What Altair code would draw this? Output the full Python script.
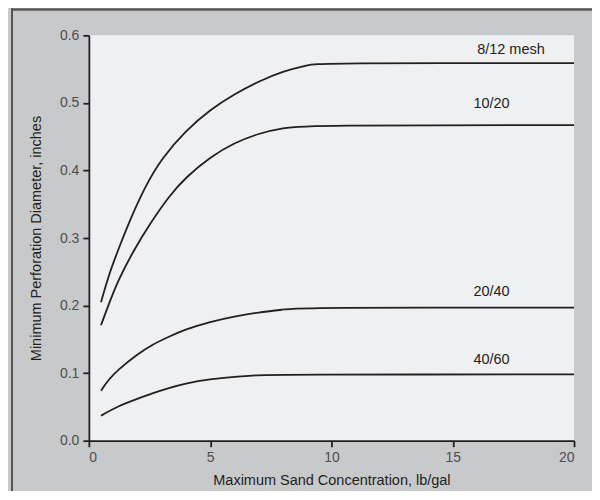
import altair as alt
import pandas as pd

# 8/12 mesh
x_a = [0.5, 0.8, 1.2, 1.7, 2.3, 3.0, 4.0, 5.0, 6.0, 7.0, 8.0, 9.0, 9.5, 20]
y_a = [0.205, 0.243, 0.282, 0.327, 0.375, 0.418, 0.459, 0.49, 0.513, 0.532, 0.547, 0.556, 0.559, 0.559]
# 10/20
x_b = [0.5, 0.8, 1.2, 1.85, 2.5, 3.3, 4.0, 5.0, 6.0, 7.0, 8.0, 9.0, 20]
y_b = [0.171, 0.2, 0.237, 0.282, 0.32, 0.362, 0.39, 0.42, 0.441, 0.455, 0.463, 0.467, 0.467]
# 20/40
x_c = [0.5, 0.8, 1.2, 2.0, 2.6, 3.3, 4.0, 5.0, 6.0, 7.0, 8.0, 8.7, 20]
y_c = [0.074, 0.09, 0.105, 0.128, 0.142, 0.154, 0.165, 0.176, 0.184, 0.19, 0.194, 0.197, 0.197]
# 40/60
x_d = [0.5, 1.2, 2.0, 2.6, 3.3, 4.0, 5.0, 6.0, 7.0, 7.6, 20]
y_d = [0.037, 0.051, 0.062, 0.07, 0.078, 0.085, 0.091, 0.0945, 0.097, 0.098, 0.098]

series_names = ["8/12 mesh", "10/20", "20/40", "40/60"]
label_x = [17.4, 16.6, 16.6, 16.6]
label_y = [0.578, 0.498, 0.220, 0.120]

x_ticks = [0, 5, 10, 15, 20]
y_ticks = [0.0, 0.1, 0.2, 0.3, 0.4, 0.5, 0.6]

rows = []
for name, xs, ys in zip(series_names, [x_a, x_b, x_c, x_d], [y_a, y_b, y_c, y_d]):
    for i, (xv, yv) in enumerate(zip(xs, ys)):
        rows.append({"series": name, "x": xv, "y": yv, "order": i})
df = pd.DataFrame(rows)
labels = pd.DataFrame({"series": series_names, "x": label_x, "y": label_y})

FONT = "Liberation Sans"
INK = "#231f20"

xs = alt.Scale(domain=[0, 20], nice=False, zero=False)
ys = alt.Scale(domain=[0, 0.6], nice=False)

lines = alt.Chart(df).mark_line(color=INK, strokeWidth=1.8, interpolate="basis").encode(
    x=alt.X("x:Q", scale=xs, axis=alt.Axis(
        values=x_ticks, title="Maximum Sand Concentration, lb/gal", format="d",
        titlePadding=9)),
    y=alt.Y("y:Q", scale=ys, axis=alt.Axis(
        values=y_ticks, title="Minimum Perforation Diameter, inches", format=".1f",
        titlePadding=16)),
    detail="series:N",
    order="order:Q",
)

texts = alt.Chart(labels).mark_text(font=FONT, fontSize=14.5, color=INK, align="center", baseline="middle").encode(
    x=alt.X("x:Q", scale=xs),
    y=alt.Y("y:Q", scale=ys),
    text="series:N",
)

border_left = alt.Chart(labels).mark_rule(color="#555555", strokeWidth=1.5).encode(
    x=alt.value(-77), y=alt.value(-27), y2=alt.value(460))
border_top = alt.Chart(labels).mark_rule(color="#555555", strokeWidth=1.5).encode(
    x=alt.value(-77), x2=alt.value(510), y=alt.value(-26))

chart = alt.layer(border_left, border_top, lines, texts).properties(
    width=486, height=406,
    autosize=alt.AutoSizeParams(type="none"),
    padding={"left": 81, "top": 27, "right": 18, "bottom": 50},
    background="#c8c9cb",
).configure_view(
    fill="#eff0f2", stroke=None,
).configure_axis(
    grid=False,
    domainColor=INK, domainWidth=1.8,
    tickColor=INK, tickWidth=1.8, tickSize=6,
    labelFont=FONT, labelFontSize=14, labelColor="#4d4d4f", labelPadding=4,
    titleFont=FONT, titleFontSize=14.5, titleColor=INK, titleFontWeight="normal",
)

chart.save("out.html", embed_options={"renderer": "svg", "actions": False})
